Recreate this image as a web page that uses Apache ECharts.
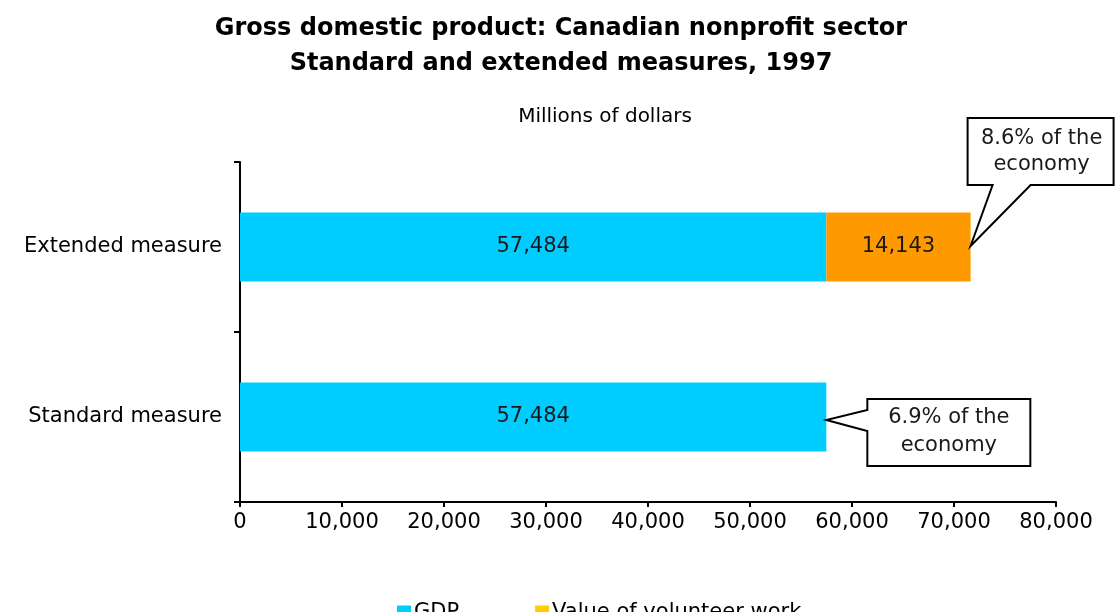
<!DOCTYPE html>
<html>
<head>
<meta charset="utf-8">
<title>Gross domestic product: Canadian nonprofit sector</title>
<script src="https://cdn.jsdelivr.net/npm/echarts@6/dist/echarts.min.js"></script>
<style>
  html, body { margin: 0; padding: 0; background: #ffffff; }
  #chart { width: 1116px; height: 612px; }
</style>
</head>
<body>
<div id="chart"></div>
<script>
// Categories, bottom to top on the category axis
const categories = ['Standard measure', 'Extended measure'];
// Millions of dollars
const gdpValues = [57484, 57484];
const volunteerValues = ['-', 14143];
const seriesNames = ['GDP', 'Value of volunteer work'];
const xTicks = { min: 0, max: 80000, interval: 10000 };
// Share of the economy, per category
const calloutTexts = ['6.9% of the\neconomy', '8.6% of the\neconomy'];

const FONT = '"DejaVu Sans", Verdana, sans-serif';
const GDP_COLOR = '#00CCFF';
const VOL_COLOR = '#FF9900';
const VOL_LEGEND_COLOR = '#FFCC00';
const TEXT_SIZE = 21;

const fmt = v => Number(v).toLocaleString('en-US');

const chart = echarts.init(document.getElementById('chart'), null, { renderer: 'canvas' });

const option = {
  animation: false,
  backgroundColor: '#ffffff',
  textStyle: { fontFamily: FONT },
  title: [
    {
      text: 'Gross domestic product: Canadian nonprofit sector\nStandard and extended measures, 1997',
      left: 556, top: 6, textAlign: 'center',
      textStyle: { fontFamily: FONT, fontSize: 24, fontWeight: 'bold', color: '#000', lineHeight: 35 }
    },
    {
      text: 'Millions of dollars',
      left: 600, top: 102, textAlign: 'center',
      textStyle: { fontFamily: FONT, fontSize: 20, fontWeight: 'normal', color: '#000' }
    }
  ],
  legend: {
    left: 392, top: 597,
    itemWidth: 14, itemHeight: 14, itemGap: 76,
    icon: 'rect',
    textStyle: { fontFamily: FONT, fontSize: TEXT_SIZE, color: '#000', padding: [0, 0, 0, -2] },
    data: [
      { name: seriesNames[0], itemStyle: { color: GDP_COLOR } },
      { name: seriesNames[1], itemStyle: { color: VOL_LEGEND_COLOR } }
    ]
  },
  grid: { left: 240, right: 60, top: 162, bottom: 110, containLabel: false },
  xAxis: {
    type: 'value',
    min: xTicks.min, max: xTicks.max, interval: xTicks.interval,
    splitLine: { show: false },
    axisLine: { show: true, lineStyle: { color: '#000', width: 2 } },
    axisTick: { show: true, length: 5, lineStyle: { color: '#000', width: 2 } },
    axisLabel: { fontFamily: FONT, fontSize: TEXT_SIZE, color: '#000', margin: 10, formatter: v => fmt(v) }
  },
  yAxis: {
    type: 'category',
    data: categories,
    axisLine: { show: true, lineStyle: { color: '#000', width: 2 } },
    axisTick: { show: true, length: 6, lineStyle: { color: '#000', width: 2 } },
    axisLabel: { fontFamily: FONT, fontSize: TEXT_SIZE, color: '#000', margin: 18 }
  },
  series: [
    {
      name: seriesNames[0], type: 'bar', stack: 'total',
      data: gdpValues, barWidth: 69,
      itemStyle: { color: GDP_COLOR },
      label: { show: true, position: 'inside', fontFamily: FONT, fontSize: TEXT_SIZE, color: '#1a1a1a', formatter: p => fmt(p.value) }
    },
    {
      name: seriesNames[1], type: 'bar', stack: 'total',
      data: volunteerValues, barWidth: 69,
      itemStyle: { color: VOL_COLOR },
      label: { show: true, position: 'inside', fontFamily: FONT, fontSize: TEXT_SIZE, color: '#1a1a1a', formatter: p => fmt(p.value) }
    }
  ]
};

chart.setOption(option);

// Callout boxes pointing at the end of each stacked bar
function totalAt(i) {
  const a = Number(gdpValues[i]) || 0;
  const b = Number(volunteerValues[i]) || 0;
  return a + b;
}

const tipStd = chart.convertToPixel({ gridIndex: 0 }, [totalAt(0), categories[0]]);
const tipExt = chart.convertToPixel({ gridIndex: 0 }, [totalAt(1), categories[1]]);

const graphics = [];

// Standard measure: box to the right, pointer from its left edge
(function () {
  const tx = tipStd[0], ty = tipStd[1] + 3;
  const L = tx + 41, R = tx + 204, T = ty - 21, B = ty + 46;
  const y1 = ty - 10, y2 = ty + 11;
  graphics.push({
    type: 'polygon', z: 100,
    shape: { points: [[L, T], [R, T], [R, B], [L, B], [L, y2], [tx, ty], [L, y1]] },
    style: { fill: '#fff', stroke: '#000', lineWidth: 2 }
  });
  graphics.push({
    type: 'text', z: 101,
    x: (L + R) / 2, y: (T + B) / 2 - 1,
    style: { text: calloutTexts[0], font: TEXT_SIZE + 'px ' + FONT, fill: '#1a1a1a', align: 'center', verticalAlign: 'middle', lineHeight: 28 }
  });
})();

// Extended measure: box above right, pointer from its bottom edge
(function () {
  const tx = tipExt[0], ty = tipExt[1] - 1;
  const L = tx - 3, R = tx + 143, T = ty - 128, B = ty - 61;
  const x1 = L + 25, x2 = L + 63;
  graphics.push({
    type: 'polygon', z: 100,
    shape: { points: [[L, T], [R, T], [R, B], [x2, B], [tx, ty], [x1, B], [L, B]] },
    style: { fill: '#fff', stroke: '#000', lineWidth: 2 }
  });
  graphics.push({
    type: 'text', z: 101,
    x: (L + R) / 2 + 1, y: (T + B) / 2,
    style: { text: calloutTexts[1], font: TEXT_SIZE + 'px ' + FONT, fill: '#1a1a1a', align: 'center', verticalAlign: 'middle', lineHeight: 26 }
  });
})();

chart.setOption({ graphic: graphics });
</script>
</body>
</html>
